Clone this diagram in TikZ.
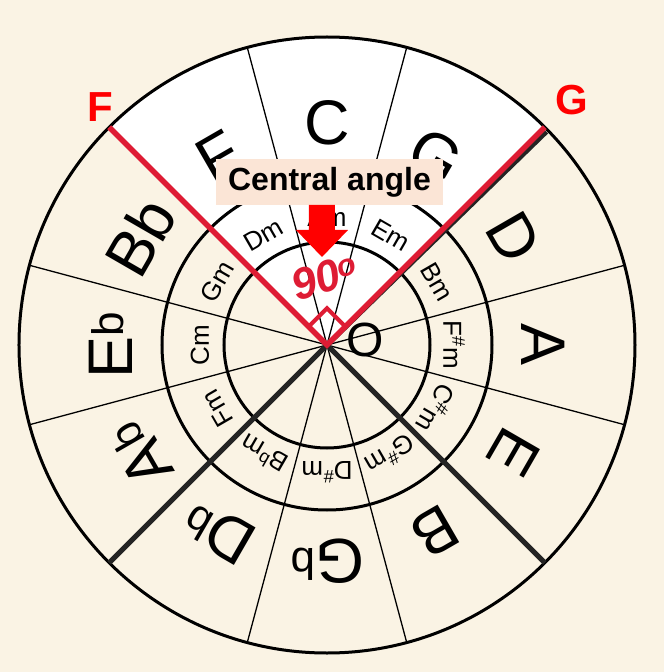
\documentclass[tikz,border=0pt]{standalone}
\usepackage{fontspec}
\setmainfont{Liberation Sans}
\usepackage{xcolor}
\definecolor{cfcream}{RGB}{250,243,228}
\definecolor{cfcrimson}{RGB}{222,28,52}
\definecolor{cfpink}{RGB}{251,229,214}
\definecolor{cfdark}{RGB}{36,36,36}
\tikzset{
  major/.style={font=\fontsize{63}{63}\selectfont, inner sep=0pt},
  minor/.style={font=\fontsize{26}{26}\selectfont, inner sep=0pt},
  ring/.style={draw, line width=3pt},
  spoke/.style={line width=1.3pt},
  boldspoke/.style={line width=5pt, cfdark},
  redspoke/.style={line width=5.5pt, cfcrimson},
  endlabel/.style={text=red, font=\fontsize{42}{42}\selectfont\bfseries, inner sep=0pt},
  tagbox/.style={fill=cfpink, minimum width=227pt, minimum height=46pt, inner sep=0pt, font=\fontsize{32}{32}\selectfont\bfseries}
}

\begin{document}
\begin{tikzpicture}[x=1pt, y=1pt]
        % page and background
        \fill[cfcream] (-327,-327) rectangle (337,345);
        \useasboundingbox (-327,-327) rectangle (337,345);
        \coordinate (O) at (0,0);
        \fill[white] (O) -- (45:308) arc[start angle=45, end angle=135, radius=308] -- cycle;
        % rings
        \draw[ring] (O) circle[radius=308];
        \draw[ring] (O) circle[radius=165];
        \draw[ring] (O) circle[radius=103];
        % sector borders
        \draw[spoke] (O) -- (15:308);
        \draw[spoke] (O) -- (75:308);
        \draw[spoke] (O) -- (105:308);
        \draw[spoke] (O) -- (165:308);
        \draw[spoke] (O) -- (195:308);
        \draw[spoke] (O) -- (255:308);
        \draw[spoke] (O) -- (285:308);
        \draw[spoke] (O) -- (345:308);
        \draw[boldspoke] (O) -- (44.2:306);
        \draw[boldspoke] (O) -- (225:308);
        \draw[boldspoke] (O) -- (315:308);
        % major keys
        \node[major] (kC) at (90:222) {C};
        \node[major, rotate=-30] (kG) at (60:218) {G};
        \node[major, rotate=-60] (kD) at (30:216) {D};
        \node[major, rotate=-90] (kA) at (0:216) {A};
        \node[major, rotate=-120] (kE) at (-30:216) {E};
        \node[major, rotate=-150] (kB) at (-60:216) {B};
        \node[major, rotate=180] (kGb) at (-90:216) {G\textsuperscript{b}};
        \node[major, rotate=150] (kDb) at (-120:216) {D\textsuperscript{b}};
        \node[major, rotate=120] (kAb) at (-150:216) {A\textsuperscript{b}};
        \node[major, rotate=90] (kEb) at (180:216) {E\textsuperscript{b}};
        \node[major, rotate=60] (kBb) at (150:216) {Bb};
        \node[major, rotate=30] (kF) at (120:218) {F};
        % minor keys
        \node[minor] (mAm) at (90:127) {Am};
        \node[minor, rotate=-30] (mEm) at (60:127) {Em};
        \node[minor, rotate=-60] (mBm) at (30:127) {Bm};
        \node[minor, rotate=-90] (mFsm) at (0:127) {F\textsuperscript{\#}m};
        \node[minor, rotate=-120] (mCsm) at (-30:127) {C\textsuperscript{\#}m};
        \node[minor, rotate=-150] (mGsm) at (-60:127) {G\textsuperscript{\#}m};
        \node[minor, rotate=180] (mDsm) at (-90:127) {D\textsuperscript{\#}m};
        \node[minor, rotate=150] (mBbm) at (-120:127) {B\textsuperscript{b}m};
        \node[minor, rotate=120] (mFm) at (-150:127) {Fm};
        \node[minor, rotate=90] (mCm) at (180:127) {Cm};
        \node[minor, rotate=60] (mGm) at (150:127) {Gm};
        \node[minor, rotate=30] (mDm) at (120:127) {Dm};
        \node[font=\fontsize{48}{48}\selectfont, inner sep=0pt] (lblO) at (38,5) {O};
        % central angle FOG
        \coordinate (pF) at (135:308);
        \coordinate (pG) at (45:308);
        \draw[redspoke] (pF) -- (O) -- (pG);
        \draw[cfcrimson, line width=4pt] (45:26) -- ++(135:26) -- (135:26);
        \node[endlabel] (lblF) at (-227,238) {F};
        \node[endlabel] (lblG) at (245,245) {G};
        \node[tagbox] (angle) at (2.5,163) {Central angle};
        \fill[red] (-18,140) -- (8,140) -- (8,115) -- (21,115) -- (-5,88) -- (-31,115) -- (-18,115) -- cycle;
        \node[text=cfcrimson, font=\fontsize{44}{44}\selectfont\bfseries\itshape, rotate=18, inner sep=0pt] (ninety) at (-2,68) {90\textsuperscript{o}};
      \end{tikzpicture}
\end{document}
